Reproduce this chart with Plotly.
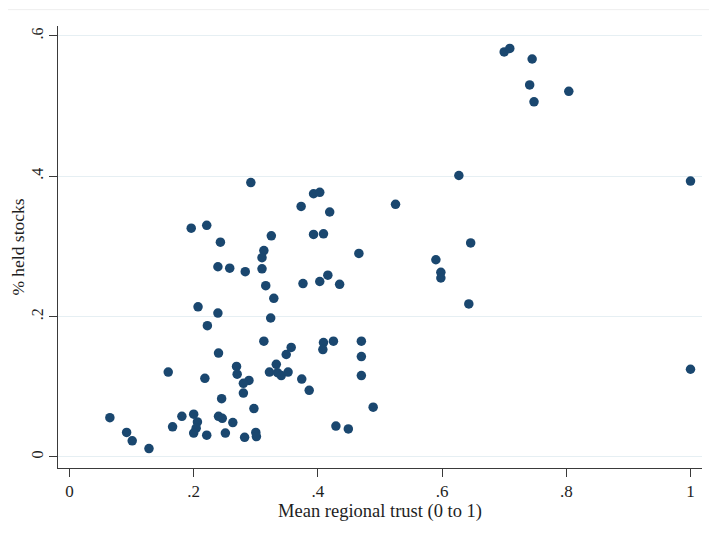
import plotly.graph_objects as go

trust = [0.700, 0.709, 0.745, 0.741, 0.804, 0.748, 0.627, 1.000, 0.292, 0.393, 0.403,
         0.373, 0.525, 0.419, 0.196, 0.221, 0.325, 0.393, 0.409, 0.243, 0.646, 0.313,
         0.466, 0.310, 0.590, 0.239, 0.258, 0.310, 0.283, 0.598, 0.598, 0.416, 0.403,
         0.376, 0.435, 0.316, 0.329, 0.643, 0.207, 0.239, 0.324, 0.222, 0.313, 0.409,
         0.408, 0.425, 0.470, 0.470, 0.470, 0.357, 0.349, 0.240, 0.269, 0.270, 0.333,
         0.322, 0.335, 0.341, 0.352, 0.159, 0.218, 0.289, 0.280, 0.374, 1.000, 0.280,
         0.386, 0.245, 0.297, 0.489, 0.065, 0.181, 0.200, 0.240, 0.246, 0.263, 0.206,
         0.204, 0.200, 0.166, 0.429, 0.449, 0.092, 0.101, 0.128, 0.221, 0.251, 0.282,
         0.300, 0.301]
stocks = [0.577, 0.582, 0.567, 0.530, 0.521, 0.506, 0.401, 0.393, 0.391, 0.375, 0.377,
          0.357, 0.360, 0.349, 0.326, 0.330, 0.315, 0.317, 0.318, 0.306, 0.305, 0.294,
          0.290, 0.284, 0.281, 0.271, 0.269, 0.268, 0.264, 0.263, 0.255, 0.259, 0.250,
          0.247, 0.246, 0.244, 0.226, 0.218, 0.214, 0.205, 0.198, 0.187, 0.165, 0.163,
          0.153, 0.165, 0.165, 0.143, 0.116, 0.156, 0.146, 0.148, 0.129, 0.118, 0.132,
          0.121, 0.120, 0.116, 0.121, 0.121, 0.112, 0.109, 0.105, 0.111, 0.125, 0.091,
          0.095, 0.083, 0.069, 0.071, 0.056, 0.058, 0.061, 0.058, 0.055, 0.049, 0.050,
          0.041, 0.034, 0.043, 0.044, 0.040, 0.035, 0.023, 0.012, 0.031, 0.034, 0.028,
          0.035, 0.029]

x_ticks = [0, 0.2, 0.4, 0.6, 0.8, 1]
x_labels = ["0", ".2", ".4", ".6", ".8", "1"]
y_ticks = [0, 0.2, 0.4, 0.6]
y_labels = ["0", ".2", ".4", ".6"]

font = "Liberation Serif, Times New Roman, serif"
ink = "#1e1e1e"

fig = go.Figure(go.Scatter(
    x=trust, y=stocks, mode="markers",
    marker=dict(size=9.5, color="#1a476f", line=dict(width=0)),
    hoverinfo="x+y"
))

fig.update_layout(
    width=717, height=540,
    margin=dict(l=50, r=23, t=18, b=80),
    paper_bgcolor="white", plot_bgcolor="white",
    showlegend=False,
    font=dict(family=font, size=16, color=ink),
    xaxis=dict(
        range=[-0.0185, 1.0185],
        tickvals=x_ticks, ticktext=x_labels,
        showgrid=False, zeroline=False, automargin=False,
        showline=True, linecolor="#3a3a3a", linewidth=1,
        ticks="outside", ticklen=8, tickcolor="#3a3a3a",
        tickfont=dict(family=font, size=17, color=ink),
        title=dict(text="Mean regional trust (0 to 1)", standoff=2,
                   font=dict(family=font, size=18.5, color=ink)),
    ),
    yaxis=dict(
        range=[-0.0157, 0.614],
        tickvals=y_ticks, ticktext=y_labels,
        showgrid=True, gridcolor="#e6eff3", gridwidth=1,
        zeroline=False, automargin=False,
        showline=True, linecolor="#3a3a3a", linewidth=1,
        ticks="outside", ticklen=8, tickcolor="#3a3a3a",
        tickangle=-90,
        tickfont=dict(family=font, size=16, color=ink),
        title=dict(text="% held stocks", standoff=2,
                   font=dict(family=font, size=17.5, color=ink)),
    ),
)

fig.add_shape(type="line", xref="paper", yref="paper",
              x0=-0.2, x1=1.1, y0=1.037, y1=1.037,
              line=dict(color="#eeeeee", width=1))

fig.write_html("out.html")
